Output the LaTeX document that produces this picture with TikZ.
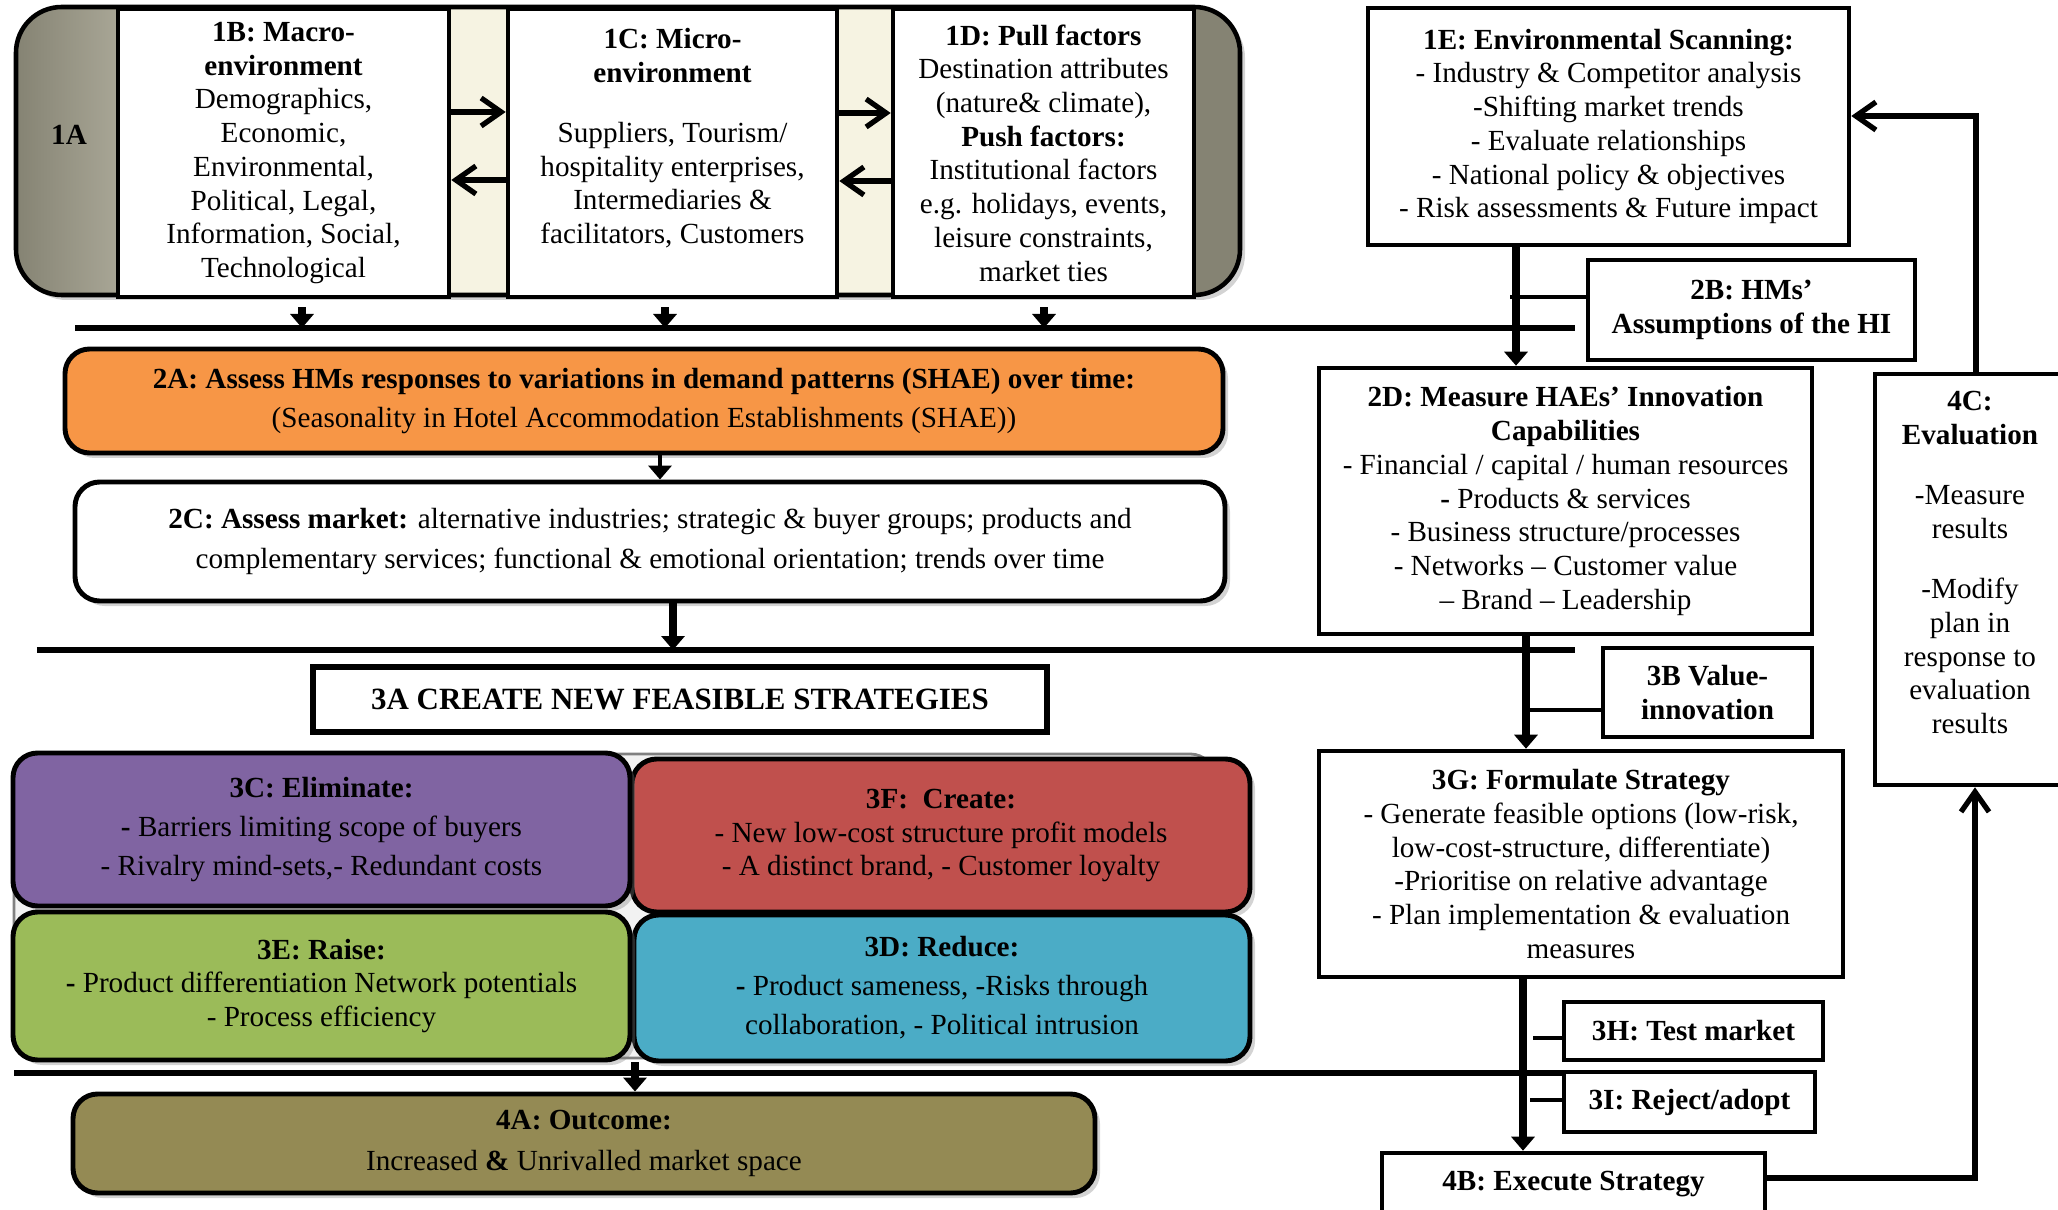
\documentclass[tikz,border=0pt]{standalone}
\usepackage{fontspec}
\setmainfont{Liberation Serif}
\usetikzlibrary{arrows.meta, calc, shadows}
\definecolor{cpanel}{HTML}{858373}
\definecolor{ccream}{HTML}{F6F3E2}
\definecolor{corange}{HTML}{F79646}
\definecolor{cpurple}{HTML}{8064A2}
\definecolor{cred}{HTML}{C0504D}
\definecolor{cgreen}{HTML}{9BBB59}
\definecolor{cblue}{HTML}{4BACC6}
\definecolor{colive}{HTML}{948A54}
\pgfdeclarehorizontalshading{panelshade}{100bp}{color(0bp)=(cpanel); color(25bp)=(cpanel); color(29bp)=(cpanel!70!ccream);
  color(42bp)=(ccream); color(61bp)=(ccream); color(73bp)=(cpanel); color(100bp)=(cpanel)}
\tikzset{
  every picture/.style={line width=1.3pt},
  every node/.style={font=\fontsize{8.3}{9.6}\selectfont, align=center},
  box/.style={draw, fill=white, inner sep=2pt, line width=1.3pt},
  bbox/.style={box, font=\fontsize{8.3}{9.6}\selectfont\bfseries},
  rbox/.style={draw, fill=#1, rounded corners=7pt, line width=1.4pt, drop shadow={shadow xshift=0.05cm, shadow yshift=-0.05cm, opacity=0.35}},
  rbox/.default=white,
  bus/.style={line width=1.5pt},
  darr/.style={-{Triangle[length=1.4mm, width=2.3mm]}, line width=2.2pt},
  oarr/.style={-{Straight Barb[length=2mm, width=2.8mm]}, line width=1.5pt},
}
\begin{document}
\begin{tikzpicture}
  \useasboundingbox (0,0) rectangle (20.58,-12.10);
  \draw[shading=panelshade, rounded corners=13pt, line width=1.3pt,
    drop shadow={shadow xshift=0.05cm, shadow yshift=-0.05cm, opacity=0.35}] (0.16,-0.07) rectangle (12.40,-2.95);
  \node (a1) at (0.69,-1.35) {\textbf{1A}};
  \node[box, minimum width=3.31cm, minimum height=2.88cm] (b1) at (2.835,-1.53) {\textbf{1B: Macro-}\\\textbf{environment}\\Demographics,\\Economic,\\Environmental,\\Political, Legal,\\Information, Social,\\Technological};
  \node[box, minimum width=3.29cm, minimum height=2.88cm] (c1) at (6.725,-1.53) {\textbf{1C: Micro-}\\\textbf{environment}\\[7.4pt]Suppliers, Tourism/\\hospitality enterprises,\\Intermediaries \&\\facilitators, Customers\\\mbox{}};
  \node[box, minimum width=3.01cm, minimum height=2.88cm] (d1) at (10.435,-1.53) {\textbf{1D: Pull factors}\\Destination attributes\\(nature\& climate),\\\textbf{Push factors:}\\Institutional factors\\e.g. holidays, events,\\leisure constraints,\\market ties};
  \draw[oarr] (b1.east |- 0,-1.12) -- (c1.west |- 0,-1.12); \draw[oarr] (c1.west |- 0,-1.80) -- (b1.east |- 0,-1.80);
  \draw[oarr] (c1.east |- 0,-1.13) -- (d1.west |- 0,-1.13); \draw[oarr] (d1.west |- 0,-1.81) -- (c1.east |- 0,-1.81);
  \coordinate (bus1w) at (0.75,-3.28); \coordinate (bus1e) at (15.75,-3.28);
  \draw[bus] (bus1w) -- (bus1e);
  \foreach \n/\x in {b1/3.02, c1/6.65, d1/10.44} \draw[darr] ($(\n.south -| \x,0)+(0,-0.08)$) -- (bus1w -| \x,0);

  \node[box, minimum width=4.81cm, minimum height=2.37cm] (e1) at (16.085,-1.265) {\textbf{1E: Environmental Scanning:}\\- Industry \& Competitor analysis\\-Shifting market trends\\- Evaluate relationships\\- National policy \& objectives\\- Risk assessments \& Future impact};
  \node[bbox, minimum width=3.27cm, minimum height=1.0cm] (b2) at (17.515,-3.10) {2B: HMs'\\Assumptions of the HI};
  \node[box, minimum width=4.93cm, minimum height=2.66cm] (d2) at (15.655,-5.01) {\textbf{2D: Measure HAEs' Innovation}\\\textbf{Capabilities}\\- Financial / capital / human resources\\\textbf{-} Products \& services\\- Business structure/processes\\- Networks -- Customer value\\-- Brand -- Leadership};
  \draw[darr] (e1.south -| 15.16,0) -- (d2.north -| 15.16,0);
  \coordinate (j2b) at (15.10,-2.97); \draw (j2b) -- (b2.west |- j2b);

  \node[rbox=corange, minimum width=11.58cm, minimum height=1.04cm] (a2) at (6.44,-4.01) {\textbf{2A: Assess HMs responses to variations in demand patterns (SHAE) over time:}\\[1.5pt](Seasonality in Hotel Accommodation Establishments (SHAE))};
  \node[rbox, minimum width=11.5cm, minimum height=1.19cm] (c2) at (6.50,-5.415) {\textbf{2C: Assess market:} alternative industries; strategic \& buyer groups; products and\\[2pt]complementary services; functional \& emotional orientation; trends over time};
  \draw[darr, line width=1.4pt] (a2.south -| 6.60,0) -- (c2.north -| 6.60,0);
  \coordinate (bus2w) at (0.37,-6.50); \coordinate (bus2e) at (15.75,-6.50);
  \draw[bus] (bus2w) -- (bus2e);
  \draw[darr] (c2.south -| 6.73,0) -- (bus2w -| 6.73,0);
  \node[box, line width=1.6pt, minimum width=7.34cm, minimum height=0.65cm, font=\fontsize{8.8}{10}\selectfont\bfseries] (a3) at (6.80,-6.995) {3A CREATE NEW FEASIBLE STRATEGIES};

  \draw[fill=gray!10, draw=gray, line width=0.8pt, rounded corners=7pt] (0.14,-7.54) rectangle (12.15,-10.58);
  \node[rbox=cred, minimum width=6.18cm, minimum height=1.53cm] (f3) at (9.41,-8.355) {\textbf{3F:\ \ Create:}\\- New low-cost structure profit models\\- A distinct brand, - Customer loyalty};
  \node[rbox=cpurple, minimum width=6.17cm, minimum height=1.53cm] (c3) at (3.215,-8.295) {\textbf{3C: Eliminate:}\\[1.5pt]\textbf{-} Barriers limiting scope of buyers\\[1.5pt]- Rivalry mind-sets,- Redundant costs};
  \node[rbox=cblue, minimum width=6.16cm, minimum height=1.46cm] (d3) at (9.42,-9.88) {\textbf{3D: Reduce:}\\[1.5pt]\textbf{-} Product sameness, -Risks through\\[1.5pt]collaboration, - Political intrusion};
  \node[rbox=cgreen, minimum width=6.17cm, minimum height=1.48cm] (e3) at (3.215,-9.86) {\textbf{3E: Raise:}\\\textbf{-} Product differentiation Network potentials\\- Process efficiency};
  \coordinate (bus3w) at (0.14,-10.73); \coordinate (bus3e) at (15.63,-10.73);
  \draw[bus] (bus3w) -- (bus3e);
  \node[rbox=colive, minimum width=10.22cm, minimum height=0.99cm] (a4) at (5.84,-11.435) {\textbf{4A: Outcome:}\\[2pt]Increased \textbf{\&} Unrivalled market space};
  \draw[darr] (e3.south -| 6.35,0) -- (a4.north -| 6.35,0);

  \node[bbox, minimum width=2.09cm, minimum height=0.89cm] (b3) at (17.075,-6.925) {3B Value-\\innovation};
  \node[box, minimum width=5.24cm, minimum height=2.26cm] (g3) at (15.81,-8.64) {\textbf{3G: Formulate Strategy}\\- Generate feasible options (low-risk,\\low-cost-structure, differentiate)\\-Prioritise on relative advantage\\- Plan implementation \& evaluation\\measures};
  \draw[darr] (d2.south -| 15.26,0) -- (g3.north -| 15.26,0);
  \coordinate (j3b) at (15.30,-7.10); \draw (j3b) -- (b3.west |- j3b);
  \node[bbox, minimum width=2.59cm, minimum height=0.58cm] (h3) at (16.935,-10.31) {3H: Test market};
  \node[bbox, minimum width=2.51cm, minimum height=0.60cm] (i3) at (16.895,-11.02) {3I: Reject/adopt};
  \node[bbox, minimum width=3.83cm, minimum height=0.62cm] (b4) at (15.735,-11.84) {4B: Execute Strategy};
  \draw[darr] (g3.south -| 15.23,0) -- (b4.north -| 15.23,0);
  \coordinate (j3h) at (15.33,-10.38); \draw (j3h) -- (h3.west |- j3h);
  \coordinate (j3i) at (15.30,-11.00); \draw (j3i) -- (i3.west |- j3i);

  \node[box, minimum width=1.90cm, minimum height=4.11cm] (c4) at (19.70,-5.795) {\textbf{4C:}\\\textbf{Evaluation}\\[7.5pt]-Measure\\results\\[7.5pt]-Modify\\plan in\\response to\\evaluation\\results\\\mbox{}};
  \draw[oarr] (c4.north -| 19.76,0) |- (e1.east |- 0,-1.16);
  \draw[oarr] (b4.east |- 0,-11.78) -| (c4.south -| 19.75,0);
\end{tikzpicture}
\end{document}
